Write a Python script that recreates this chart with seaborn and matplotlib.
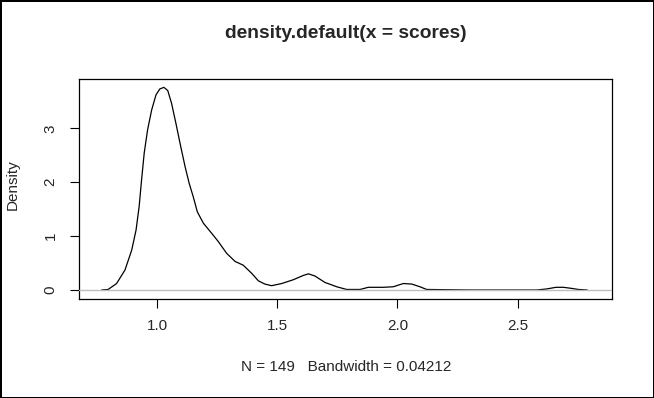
"""
Kernel density of scores, redrawn from an R density() plot.
"""
import matplotlib
matplotlib.use('Agg')
import matplotlib.pyplot as plt
import seaborn as sns
import pandas as pd

# density curve (x = score, y = density)
score = [0.770, 0.797, 0.832, 0.867, 0.895, 0.913, 0.926, 0.936, 0.947, 0.961,
         0.978, 0.996, 1.012, 1.029, 1.045, 1.061, 1.079, 1.099, 1.117, 1.134,
         1.151, 1.168, 1.193, 1.228, 1.255, 1.290, 1.325, 1.359, 1.394, 1.422,
         1.449, 1.477, 1.519, 1.567, 1.609, 1.630, 1.657, 1.699, 1.748, 1.789,
         1.845, 1.879, 1.942, 1.983, 2.025, 2.060, 2.094, 2.122, 2.300, 2.580,
         2.622, 2.660, 2.691, 2.725, 2.753, 2.790]
density = [0.00, 0.01, 0.12, 0.37, 0.74, 1.11, 1.55, 2.04, 2.54, 2.97,
           3.34, 3.62, 3.73, 3.76, 3.70, 3.46, 3.09, 2.66, 2.29, 1.98,
           1.73, 1.45, 1.24, 1.05, 0.90, 0.68, 0.53, 0.46, 0.31, 0.17,
           0.11, 0.08, 0.12, 0.19, 0.27, 0.30, 0.26, 0.14, 0.06, 0.01,
           0.01, 0.05, 0.05, 0.06, 0.12, 0.11, 0.06, 0.01, 0.00, 0.00,
           0.02, 0.05, 0.05, 0.03, 0.01, 0.00]

x_ticks = [1.0, 1.5, 2.0, 2.5]
y_ticks = [0, 1, 2, 3]

title = "density.default(x = scores)"
x_label = "N = 149   Bandwidth = 0.04212"
y_label = "Density"

sns.set_style("white")
plt.rcParams['font.family'] = ['Liberation Sans', 'DejaVu Sans']

df = pd.DataFrame({'score': score, 'density': density})

W, H = 654, 398
fig = plt.figure(figsize=(W / 100, H / 100), dpi=100)
fig.patch.set_edgecolor('black')
fig.patch.set_linewidth(2)
left, right, top, bottom = 79.3, 612, 79.3, 299
ax = fig.add_axes([left / W, 1 - bottom / H, (right - left) / W, (bottom - top) / H])

sns.lineplot(data=df, x='score', y='density', ax=ax, color='black', lw=0.9,
             estimator=None, sort=False)
ax.axhline(0, color='#bebebe', lw=1, zorder=5)

ax.set_xlim(0.677, 2.893)
ax.set_ylim(-0.167, 3.909)
ax.set_xticks(x_ticks)
ax.set_xticklabels([f"{t:.1f}" for t in x_ticks])
ax.set_yticks(y_ticks)
ax.set_yticklabels([str(t) for t in y_ticks], rotation=90, va='center')

for s in ax.spines.values():
    s.set_color('black')
    s.set_linewidth(0.9)
ax.tick_params(axis='both', direction='out', length=6.2, width=0.8,
               color='black', labelsize=11, bottom=True, left=True)
ax.tick_params(axis='x', pad=8.5)
ax.tick_params(axis='y', pad=9.5)

ax.set_xlabel(x_label, fontsize=11)
ax.set_ylabel(y_label, fontsize=11)
ax.xaxis.set_label_coords((346 - left) / (right - left), -(367 - bottom) / (bottom - top))
ax.yaxis.set_label_coords(-(left - 13) / (right - left), (bottom - 185) / (bottom - top))
ax.xaxis.label.set_va('center')
ax.yaxis.label.set_va('center')

ax.set_title(title, fontsize=13.9, fontweight='bold',
             y=(bottom - 41.7) / (bottom - top), va='center')

plt.savefig('out.png', dpi=100)
plt.close()
